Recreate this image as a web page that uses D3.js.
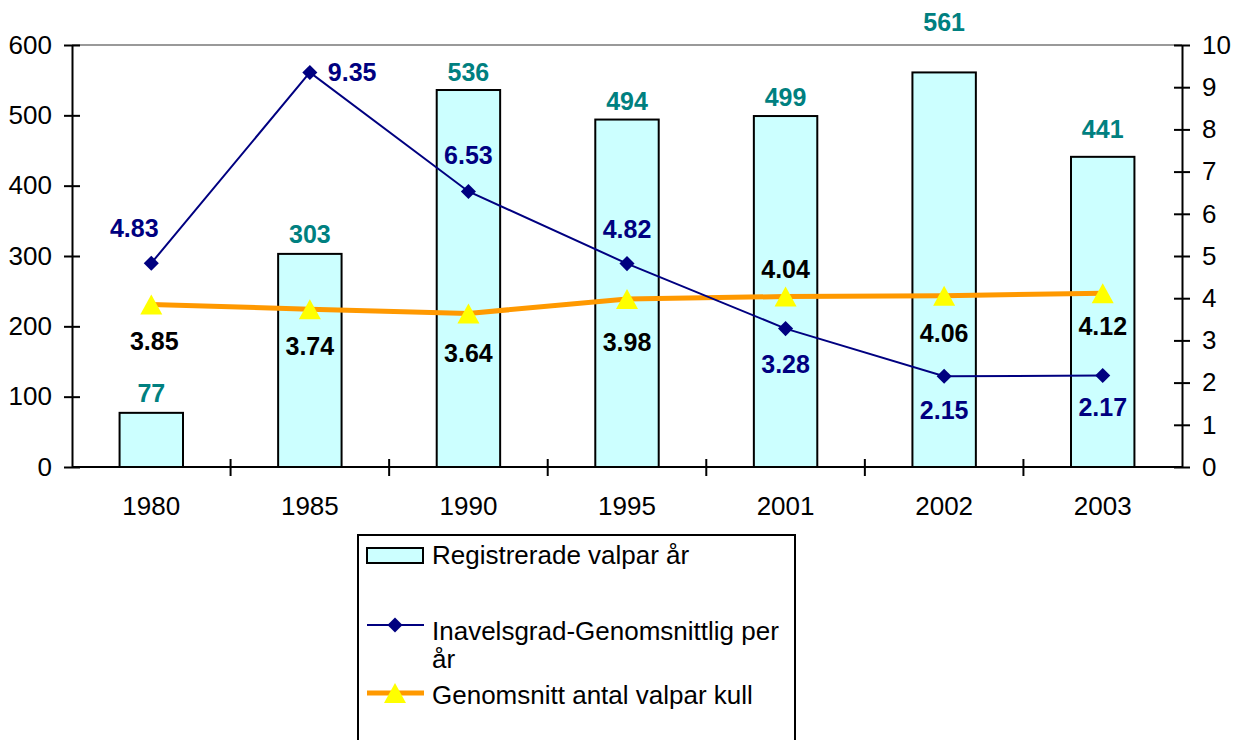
<!DOCTYPE html>
<html>
<head>
<meta charset="utf-8">
<script src="https://cdn.jsdelivr.net/npm/d3@7"></script>
<style>
  body { margin: 0; background: #fff; }
  svg text { font-family: Arial, "Liberation Sans", sans-serif; }
</style>
</head>
<body>
<div id="chart"></div>
<script>
const years = ['1980', '1985', '1990', '1995', '2001', '2002', '2003'];
const registrerade = [77, 303, 536, 494, 499, 561, 441];
const inavelsgrad = [4.83, 9.35, 6.53, 4.82, 3.28, 2.15, 2.17];
const kullstorlek = [3.85, 3.74, 3.64, 3.98, 4.04, 4.06, 4.12];
const leftTicks = [0, 100, 200, 300, 400, 500, 600];
const rightTicks = [0, 1, 2, 3, 4, 5, 6, 7, 8, 9, 10];

// label placement (pixel offsets of label centre from its point), like hand-dragged Excel labels
const barLabelDy = [-20, -20, -18, -19, -19, -50, -28];
const inavelsDx = [-17, 18, 0, 0, 0, 0, 0];
const inavelsDy = [-35, 0, -36, -35, 35, 34, 32];
const kullDx = [3, 0, 0, 0, 0, 0, 0];
const kullDy = [36, 37, 40, 43, -28, 37, 33];

const w = 1240, h = 740;
const L = 72, R = 1182, T = 45, B = 467;

const svg = d3.select('#chart').append('svg')
    .attr('width', w).attr('height', h);

const x = d3.scaleBand().domain(years).range([L, R]);
const yL = d3.scaleLinear().domain([0, 600]).range([B, T]);
const yR = d3.scaleLinear().domain([0, 10]).range([B, T]);

const teal = '#008080', navy = '#000080', orange = '#FF9900';
const fs = 26, fb = 25;

// top border line of plot area
svg.append('line')
    .attr('x1', L).attr('x2', R).attr('y1', T).attr('y2', T)
    .attr('stroke', '#999').attr('stroke-width', 2);

// bars
const bw = x.bandwidth() * 0.4;
const cx = i => x(years[i]) + x.bandwidth() / 2;

svg.selectAll('.bar')
    .data(registrerade).enter()
    .append('rect')
    .attr('x', (d, i) => cx(i) - bw / 2)
    .attr('y', d => yL(d))
    .attr('width', bw)
    .attr('height', d => B - yL(d))
    .attr('fill', '#CCFFFF')
    .attr('stroke', '#000')
    .attr('stroke-width', 2);

svg.selectAll('.barlabel')
    .data(registrerade).enter()
    .append('text')
    .attr('x', (d, i) => cx(i))
    .attr('y', (d, i) => yL(d) + barLabelDy[i])
    .attr('dy', '0.36em')
    .attr('text-anchor', 'middle')
    .attr('font-size', fb).attr('font-weight', 'bold')
    .attr('fill', teal)
    .text(d => d);

// axes
const ax = g => {
    g.selectAll('path').attr('stroke', '#000').attr('stroke-width', 2);
    g.selectAll('line').attr('stroke', '#000').attr('stroke-width', 2);
    g.selectAll('text').attr('font-size', fs).attr('fill', '#000')
        .style('font-family', 'Arial, "Liberation Sans", sans-serif');
};

svg.append('g')
    .attr('transform', `translate(${L},0)`)
    .call(d3.axisLeft(yL).tickValues(leftTicks).tickSizeInner(8).tickSizeOuter(0).tickPadding(12))
    .call(ax)
    .call(g => g.selectAll('.tick line').attr('x2', -8).attr('x1', 8));

svg.append('g')
    .attr('transform', `translate(${R},0)`)
    .call(d3.axisRight(yR).tickValues(rightTicks).tickSizeInner(8).tickSizeOuter(0).tickPadding(12))
    .call(ax)
    .call(g => g.selectAll('.tick line').attr('x1', -8).attr('x2', 8));

// x axis: ticks between categories
const xa = svg.append('g').attr('transform', `translate(0,${B})`);
xa.append('line').attr('x1', L).attr('x2', R).attr('stroke', '#000').attr('stroke-width', 2);
xa.selectAll('.xt')
    .data(years.slice(1)).enter()
    .append('line')
    .attr('x1', d => x(d)).attr('x2', d => x(d))
    .attr('y1', -8).attr('y2', 9)
    .attr('stroke', '#000').attr('stroke-width', 2);
xa.selectAll('.xl')
    .data(years).enter()
    .append('text')
    .attr('x', d => x(d) + x.bandwidth() / 2)
    .attr('y', 48)
    .attr('text-anchor', 'middle')
    .attr('font-size', fs)
    .text(d => d);

// orange line
svg.append('path')
    .datum(kullstorlek)
    .attr('d', d3.line().x((d, i) => cx(i)).y(d => yR(d)))
    .attr('fill', 'none').attr('stroke', orange).attr('stroke-width', 5);

// navy line
svg.append('path')
    .datum(inavelsgrad)
    .attr('d', d3.line().x((d, i) => cx(i)).y(d => yR(d)))
    .attr('fill', 'none').attr('stroke', navy).attr('stroke-width', 2);

const diamond = d3.symbol().type(d3.symbolDiamond2).size(145);
const triangle = 'M0,-10 L11,10 L-11,10 Z';

svg.selectAll('.dia')
    .data(inavelsgrad).enter()
    .append('path')
    .attr('d', diamond)
    .attr('transform', (d, i) => `translate(${cx(i)},${yR(d)})`)
    .attr('fill', navy);

svg.selectAll('.tri')
    .data(kullstorlek).enter()
    .append('path')
    .attr('d', triangle)
    .attr('transform', (d, i) => `translate(${cx(i)},${yR(d)})`)
    .attr('fill', '#FFFF00');

// line labels
svg.selectAll('.il')
    .data(inavelsgrad).enter()
    .append('text')
    .attr('x', (d, i) => cx(i) + inavelsDx[i])
    .attr('y', (d, i) => yR(d) + inavelsDy[i])
    .attr('dy', '0.36em')
    .attr('text-anchor', (d, i) => inavelsDx[i] > 0 ? 'start' : 'middle')
    .attr('font-size', fb).attr('font-weight', 'bold')
    .attr('fill', navy)
    .text(d => d.toFixed(2));

svg.selectAll('.kl')
    .data(kullstorlek).enter()
    .append('text')
    .attr('x', (d, i) => cx(i) + kullDx[i])
    .attr('y', (d, i) => yR(d) + kullDy[i])
    .attr('dy', '0.36em')
    .attr('text-anchor', 'middle')
    .attr('font-size', fb).attr('font-weight', 'bold')
    .attr('fill', '#000')
    .text(d => d.toFixed(2));

// legend
const lg = svg.append('g');
lg.append('rect')
    .attr('x', 358).attr('y', 535).attr('width', 437).attr('height', 220)
    .attr('fill', '#fff').attr('stroke', '#000').attr('stroke-width', 2);
lg.append('rect')
    .attr('x', 367).attr('y', 548).attr('width', 56).attr('height', 15)
    .attr('fill', '#CCFFFF').attr('stroke', '#000').attr('stroke-width', 2);
lg.append('text').attr('x', 432).attr('y', 564).attr('font-size', fs).text('Registrerade valpar år');

lg.append('line').attr('x1', 367).attr('x2', 424).attr('y1', 625).attr('y2', 625)
    .attr('stroke', navy).attr('stroke-width', 2);
lg.append('path').attr('d', diamond)
    .attr('transform', 'translate(395,625)').attr('fill', navy);
lg.append('text').attr('x', 432).attr('y', 640).attr('font-size', fs).text('Inavelsgrad-Genomsnittlig per');
lg.append('text').attr('x', 432).attr('y', 668).attr('font-size', fs).text('år');

lg.append('line').attr('x1', 367).attr('x2', 424).attr('y1', 693).attr('y2', 693)
    .attr('stroke', orange).attr('stroke-width', 5);
lg.append('path').attr('d', triangle)
    .attr('transform', 'translate(395,693)').attr('fill', '#FFFF00');
lg.append('text').attr('x', 432).attr('y', 704).attr('font-size', fs).text('Genomsnitt antal valpar kull');
</script>
</body>
</html>
